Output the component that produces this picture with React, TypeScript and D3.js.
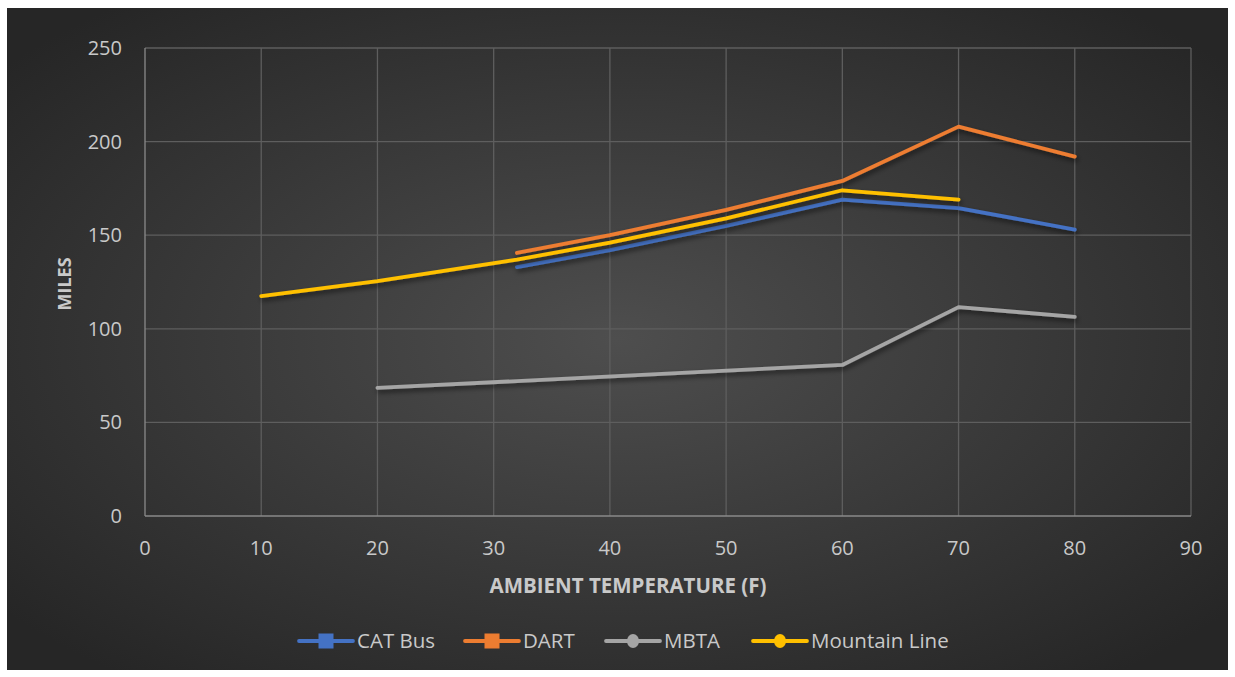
import React from "react";
import * as d3 from "d3";

const temps = [10, 20, 32, 40, 50, 60, 70, 80];
const catBus: (number | null)[] = [null, null, 133, 142, 155, 169, 164.5, 153];
const dart: (number | null)[] = [null, null, 140.5, 150, 163.5, 179, 208, 192];
const mbta: (number | null)[] = [null, 68.4, null, null, null, 80.7, 111.6, 106.4];
const mountainLine: (number | null)[] = [117.5, 125.5, 137, 146, 159, 174, 169, null];
const xTicks = [0, 10, 20, 30, 40, 50, 60, 70, 80, 90];
const yTicks = [0, 50, 100, 150, 200, 250];
const seriesNames = ["CAT Bus", "DART", "MBTA", "Mountain Line"];
const seriesColors = ["#4472C4", "#ED7D31", "#A5A5A5", "#FFC000"];
const seriesMarkers = ["square", "square", "circle", "circle"];

const W = 1235;
const H = 677;
const FONT = "'Open Sans', Lato, sans-serif";

export default function App() {
  const x = d3.scaleLinear().domain([0, 90]).range([145, 1191]);
  const y = d3.scaleLinear().domain([0, 250]).range([516, 48]);
  const allSeries = [catBus, dart, mbta, mountainLine];
  const line = d3
    .line<[number, number]>()
    .x((d) => x(d[0]))
    .y((d) => y(d[1]));

  const legendX = [299, 465, 606, 753];
  const legendY = 641;

  return (
    <svg
      width={W}
      height={H}
      style={{ position: "absolute", left: 0, top: 0 }}
    >
      <defs>
        <radialGradient id="bg" cx="50%" cy="50%" r="65%">
          <stop offset="0%" stopColor="#4e4e4e" />
          <stop offset="100%" stopColor="#262626" />
        </radialGradient>
        <filter id="shadow" x="-10%" y="-50%" width="120%" height="200%">
          <feDropShadow dx="1.5" dy="3" stdDeviation="2.5" floodColor="#000" floodOpacity="0.55" />
        </filter>
      </defs>
      <rect x={0} y={0} width={W} height={H} fill="#fff" />
      <rect x={7} y={8} width={1221} height={662} fill="url(#bg)" />

      {/* gridlines */}
      {xTicks.slice(1).map((t) => (
        <line key={"gx" + t} x1={x(t)} x2={x(t)} y1={y(250)} y2={y(0)} stroke="#5e5e5e" strokeWidth={1.3} />
      ))}
      {yTicks.slice(1).map((t) => (
        <line key={"gy" + t} x1={x(0)} x2={x(90)} y1={y(t)} y2={y(t)} stroke="#5e5e5e" strokeWidth={1.3} />
      ))}
      {/* axes */}
      <line x1={x(0)} x2={x(0)} y1={y(250)} y2={y(0)} stroke="#8a8a8a" strokeWidth={1.3} />
      <line x1={x(0)} x2={x(90)} y1={y(0)} y2={y(0)} stroke="#8a8a8a" strokeWidth={1.3} />

      {/* tick labels */}
      {yTicks.map((t) => (
        <text key={"yl" + t} x={122} y={y(t)} dy="0.35em" textAnchor="end" fill="#c9c9c9" fontSize={20} fontFamily={FONT}>
          {t}
        </text>
      ))}
      {xTicks.map((t) => (
        <text key={"xl" + t} x={x(t)} y={548} dy="0.35em" textAnchor="middle" fill="#c9c9c9" fontSize={20} fontFamily={FONT}>
          {t}
        </text>
      ))}

      {/* axis titles */}
      <text x={628} y={586} dy="0.35em" textAnchor="middle" fill="#c9c9c9" fontSize={20.5} fontWeight="bold" fontFamily={FONT}>
        AMBIENT TEMPERATURE (F)
      </text>
      <text
        transform={`translate(65,${284}) rotate(-90)`}
        dy="0.35em"
        textAnchor="middle"
        fill="#c9c9c9"
        fontSize={18}
        fontWeight="bold"
        fontFamily={FONT}
      >
        MILES
      </text>

      {/* series */}
      {allSeries.map((s, i) => {
        const pts: [number, number][] = [];
        s.forEach((v, j) => {
          if (v !== null) pts.push([temps[j], v]);
        });
        return (
          <path
            key={"s" + i}
            d={line(pts) || ""}
            fill="none"
            stroke={seriesColors[i]}
            strokeWidth={3.8}
            strokeLinejoin="round"
            strokeLinecap="round"
            filter="url(#shadow)"
          />
        );
      })}

      {/* legend */}
      {seriesNames.map((name, i) => {
        const lx = legendX[i];
        return (
          <g key={"lg" + i}>
            <line x1={lx} x2={lx + 54} y1={legendY} y2={legendY} stroke={seriesColors[i]} strokeWidth={3.8} strokeLinecap="round" />
            {seriesMarkers[i] === "square" ? (
              <rect x={lx + 27 - 7} y={legendY - 7} width={14} height={14} fill={seriesColors[i]} stroke={seriesColors[i]} strokeWidth={1} />
            ) : (
              <ellipse cx={lx + 27} cy={legendY} rx={6} ry={7} fill={seriesColors[i]} />
            )}
            <text x={lx + 58} y={legendY} dy="0.35em" fill="#c9c9c9" fontSize={20.5} fontFamily={FONT}>
              {name}
            </text>
          </g>
        );
      })}
    </svg>
  );
}
